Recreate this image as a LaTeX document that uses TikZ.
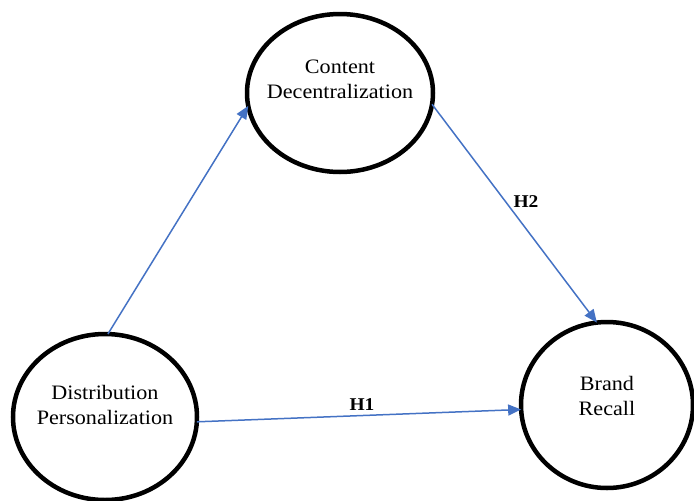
\documentclass[tikz,border=0pt]{standalone}
\usepackage{fontspec}
\setmainfont[FakeStretch=1.08]{Liberation Serif}
\usetikzlibrary{shapes.geometric,arrows.meta}
\definecolor{linkblue}{HTML}{4472C4}
\tikzset{
  construct/.style={ellipse, draw=black, line width=4.5pt, fill=white, outer sep=0pt,
    inner sep=0pt},
  caption/.style={align=center, font=\fontsize{20.5}{25}\selectfont, yshift=#1},
  link/.style={draw=linkblue, line width=1.5pt, -{Triangle[length=13pt,width=11pt]}},
  hyp/.style={font=\bfseries\fontsize{18}{20}\selectfont}
}
\begin{document}
\begin{tikzpicture}[x=1pt,y=-1pt]
  \useasboundingbox (0,0) rectangle (694,501);
  \node[construct, minimum width=186pt, minimum height=158pt,
    label={[caption=14pt]center:Content\\Decentralization}] (cd) at (340,93) {};
  \node[construct, minimum width=184pt, minimum height=166pt,
    label={[caption=12pt]center:Distribution\\Personalization}] (dp) at (105,417) {};
  \node[construct, minimum width=172pt, minimum height=166pt,
    label={[caption=9pt]center:Brand\\Recall}] (br) at (607,405) {};
  \draw[link] (dp.88) -- (cd.188);
  \draw[link] (cd.353) -- (br.97);
  \draw[link] (dp.357) -- (br.183);
  \node[hyp] (h1) at (362,405) {H1};
  \node[hyp] (h2) at (526,202) {H2};
\end{tikzpicture}
\end{document}
